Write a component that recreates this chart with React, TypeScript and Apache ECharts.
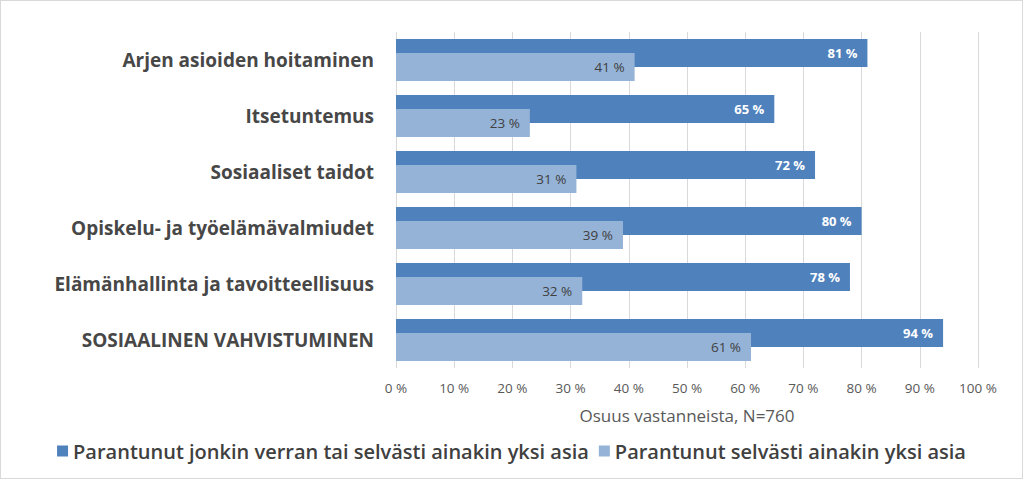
import React, { useEffect, useRef } from "react";
import * as echarts from "echarts";

const categories = [
  "Arjen asioiden hoitaminen",
  "Itsetuntemus",
  "Sosiaaliset taidot",
  "Opiskelu- ja työelämävalmiudet",
  "Elämänhallinta ja tavoitteellisuus",
  "SOSIAALINEN VAHVISTUMINEN",
];
const seriesNames = [
  "Parantunut jonkin verran tai selvästi ainakin yksi asia",
  "Parantunut selvästi ainakin yksi asia",
];
const someImproved = [81, 65, 72, 80, 78, 94];
const clearlyImproved = [41, 23, 31, 39, 32, 61];
const axisTitle = "Osuus vastanneista, N=760";

const FONT = "'Open Sans', sans-serif";

export default function App() {
  const ref = useRef<HTMLDivElement>(null);
  useEffect(() => {
    if (!ref.current) return;
    const chart = echarts.init(ref.current, null, { renderer: "svg" });
    chart.setOption({
      animation: false,
      backgroundColor: "#ffffff",
      textStyle: { fontFamily: FONT },
      grid: { left: 395, right: 44, top: 31, bottom: 110, containLabel: false },
      legend: {
        bottom: 12,
        left: "center",
        itemWidth: 11,
        itemHeight: 11,
        itemGap: 10,
        icon: "rect",
        textStyle: { fontFamily: FONT, fontSize: 20, fontWeight: 600, color: "#404040" },
        data: seriesNames,
      },
      xAxis: {
        type: "value",
        min: 0,
        max: 100,
        interval: 10,
        axisLine: { show: false },
        axisTick: { show: false },
        splitLine: { show: true, lineStyle: { color: "#d9d9d9", width: 1 } },
        axisLabel: { color: "#595959", fontSize: 13.5, margin: 13, formatter: (v: number) => v + " %" },
        name: axisTitle,
        nameLocation: "middle",
        nameGap: 39,
        nameTextStyle: { color: "#595959", fontSize: 17 },
      },
      yAxis: {
        type: "category",
        inverse: true,
        data: categories,
        axisLine: { show: false },
        axisTick: { show: false },
        axisLabel: { color: "#474747", fontSize: 19, fontWeight: 700, margin: 22 },
      },
      series: [
        {
          name: seriesNames[0],
          type: "bar",
          data: someImproved,
          barWidth: 28,
          barGap: "-50%",
          itemStyle: { color: "#4f81bd" },
          label: {
            show: true,
            position: "insideRight",
            distance: 10,
            color: "#ffffff",
            fontWeight: 700,
            fontSize: 13,
            formatter: (p: any) => p.value + " %",
          },
        },
        {
          name: seriesNames[1],
          type: "bar",
          data: clearlyImproved,
          barWidth: 28,
          barGap: "-50%",
          itemStyle: { color: "#95b3d7" },
          label: {
            show: true,
            position: "insideRight",
            distance: 10,
            color: "#404040",
            fontSize: 13.5,
            formatter: (p: any) => p.value + " %",
          },
        },
      ],
    });
    return () => chart.dispose();
  }, []);
  return (
    <div
      ref={ref}
      style={{
        position: "fixed",
        left: 0,
        top: 0,
        width: 1023,
        height: 479,
        boxSizing: "border-box",
        border: "1px solid #d9d9d9",
      }}
    />
  );
}
